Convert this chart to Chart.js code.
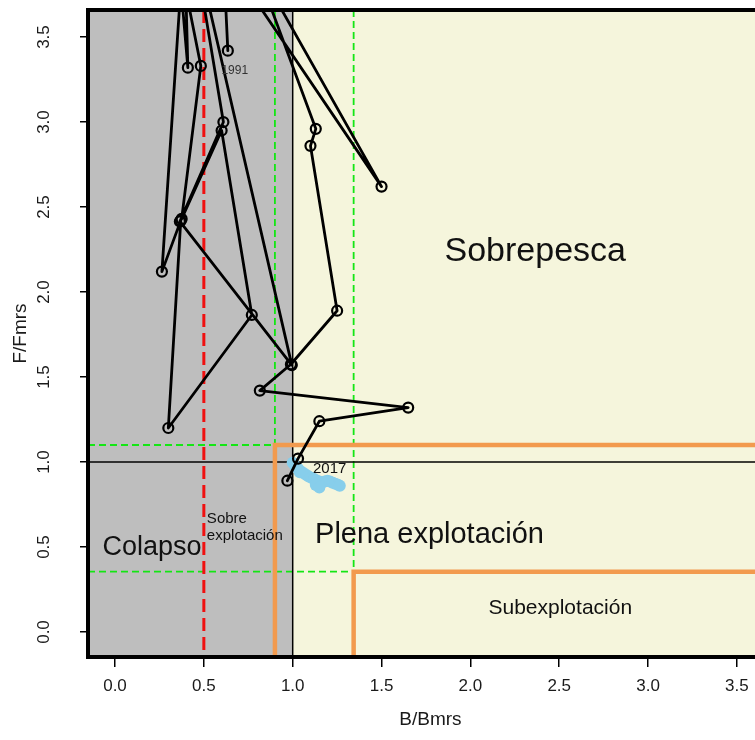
<!DOCTYPE html>
<html>
<head>
<meta charset="utf-8">
<script src="https://cdn.jsdelivr.net/npm/chart.js"></script>
<style>
  html, body { margin: 0; padding: 0; background: #fff; overflow: hidden; width: 755px; height: 740px; }
  canvas { display: block; }
</style>
</head>
<body>
<canvas id="chart" width="780" height="740"></canvas>
<script>
// stock trajectory, B/Bmrs vs F/Fmrs (points above F/Fmrs 3.66 fall outside the frame)
const bRatio = [0.635, 0.595, 0.305, 0.41, 0.39, 0.264, 0.37, 0.30, 0.77, 0.60, 0.375, 0.483, 0.165, 0.324, 0.61,
  0.365, 0.995, 0.383, 1.50, 0.776, 1.13, 1.10, 1.25, 0.99, 0.815, 1.65, 1.15, 1.03, 0.97];
const fRatio = [3.42, 4.30, 4.60, 3.32, 4.10, 2.12, 2.42, 1.20, 1.865, 2.95, 2.43, 3.33, 5.00, 4.80, 3.00,
  2.415, 1.57, 4.345, 2.62, 3.96, 2.96, 2.86, 1.89, 1.575, 1.42, 1.32, 1.24, 1.02, 0.89];

// uncertainty cloud of the last year
const cloudB = [1.00, 1.015, 1.03, 1.045, 1.06, 1.075, 1.09, 1.105, 1.12, 1.135, 1.15, 1.165, 1.18, 1.195, 1.21, 1.225, 1.24, 1.255, 1.265, 1.13, 1.15, 1.04];
const cloudF = [0.995, 0.975, 0.96, 0.945, 0.935, 0.925, 0.915, 0.908, 0.90, 0.892, 0.885, 0.88, 0.885, 0.89, 0.885, 0.878, 0.872, 0.866, 0.86, 0.865, 0.85, 0.94];

const xTicks = [0, 0.5, 1, 1.5, 2, 2.5, 3, 3.5];
const yTicks = [0, 0.5, 1, 1.5, 2, 2.5, 3, 3.5];

// reference points
const bLim = 0.5;       // red dashed
const bRef = 1.0;
const fRef = 1.0;
const bLow = 0.9, bHigh = 1.343;   // green dashed, vertical
const fHigh = 1.1, fLow = 0.355;   // green dashed, horizontal

const FONT = "'Liberation Sans', Arial, sans-serif";
Chart.defaults.font.family = FONT;

const trajectory = bRatio.map((b, i) => ({ x: b, y: fRatio[i] }));
const cloud = cloudB.map((b, i) => ({ x: b, y: cloudF[i] }));

const zoneLabels = [
  { text: 'Sobrepesca', x: 2.365, y: 2.235, size: 34, align: 'center' },
  { text: 'Plena explotación', x: 1.77, y: 0.568, size: 29, align: 'center' },
  { text: 'Subexplotación', x: 2.506, y: 0.141, size: 21, align: 'center' },
  { text: 'Colapso', x: 0.208, y: 0.494, size: 27, align: 'center' },
  { text: 'Sobre', x: 0.517, y: 0.667, size: 15, align: 'left' },
  { text: 'explotación', x: 0.517, y: 0.565, size: 15, align: 'left' },
  { text: '1991', x: 0.674, y: 3.30, size: 12, align: 'center', color: '#333' },
  { text: '2017', x: 1.208, y: 0.959, size: 15, align: 'center' },
];

function seg(ctx, pts, color, width, dash) {
  ctx.beginPath();
  ctx.setLineDash(dash || []);
  ctx.strokeStyle = color;
  ctx.lineWidth = width;
  ctx.lineJoin = 'miter';
  ctx.moveTo(pts[0][0], pts[0][1]);
  for (let i = 1; i < pts.length; i++) ctx.lineTo(pts[i][0], pts[i][1]);
  ctx.stroke();
}

const background = {
  id: 'background',
  beforeDatasetsDraw(chart) {
    const { ctx, chartArea: a, scales: { x, y } } = chart;
    const px = v => x.getPixelForValue(v), py = v => y.getPixelForValue(v);
    ctx.save();
    ctx.beginPath();
    ctx.rect(a.left, a.top, a.right - a.left, a.bottom - a.top);
    ctx.clip();
    ctx.fillStyle = '#BEBEBE';
    ctx.fillRect(a.left, a.top, px(bRef) - a.left, a.bottom - a.top);
    ctx.fillStyle = '#F5F5DC';
    ctx.fillRect(px(bRef), a.top, a.right - px(bRef), a.bottom - a.top);

    const green = '#14E614';
    seg(ctx, [[px(bLow), a.top], [px(bLow), a.bottom]], green, 1.8, [7, 4]);
    seg(ctx, [[px(bHigh), a.top], [px(bHigh), a.bottom]], green, 1.8, [7, 4]);
    seg(ctx, [[a.left, py(fHigh)], [px(bHigh), py(fHigh)]], green, 1.8, [7, 4]);
    seg(ctx, [[a.left, py(fLow)], [px(bHigh), py(fLow)]], green, 1.8, [7, 4]);

    seg(ctx, [[px(bRef), a.top], [px(bRef), a.bottom]], '#000', 1.5);
    seg(ctx, [[a.left, py(fRef)], [a.right, py(fRef)]], '#000', 1.5);
    seg(ctx, [[px(bLim), a.top], [px(bLim), a.bottom]], '#F01010', 3, [13, 6]);

    const orange = '#F29A4E';
    seg(ctx, [[px(bLow), a.bottom + 2], [px(bLow), py(fHigh)], [a.right, py(fHigh)]], orange, 4.5);
    seg(ctx, [[px(bHigh), a.bottom + 2], [px(bHigh), py(fLow)], [a.right, py(fLow)]], orange, 4.5);
    ctx.restore();
  },
  afterDatasetsDraw(chart) {
    const { ctx, chartArea: a, scales: { x, y } } = chart;
    ctx.save();
    ctx.textBaseline = 'middle';
    zoneLabels.forEach(l => {
      ctx.font = l.size + 'px ' + FONT;
      ctx.fillStyle = l.color || '#111';
      ctx.textAlign = l.align;
      ctx.fillText(l.text, x.getPixelForValue(l.x), y.getPixelForValue(l.y));
    });
    ctx.setLineDash([]);
    ctx.strokeStyle = '#000';
    ctx.lineWidth = 4;
    ctx.strokeRect(a.left, a.top, a.right - a.left, a.bottom - a.top);

    // y tick labels, rotated like the original
    ctx.font = '17px ' + FONT;
    ctx.fillStyle = '#1a1a1a';
    ctx.textAlign = 'center';
    yTicks.forEach(v => {
      ctx.save();
      ctx.translate(44, y.getPixelForValue(v));
      ctx.rotate(-Math.PI / 2);
      ctx.fillText(v.toFixed(1), 0, 0);
      ctx.restore();
    });
    ctx.restore();
  }
};

new Chart(document.getElementById('chart'), {
  type: 'scatter',
  data: {
    datasets: [
      {
        data: trajectory,
        showLine: true,
        tension: 0,
        borderColor: '#000',
        borderWidth: 2.8,
        borderJoinStyle: 'round',
        borderCapStyle: 'round',
        pointRadius: 5,
        pointBorderWidth: 2.2,
        pointBorderColor: '#000',
        pointBackgroundColor: 'rgba(0,0,0,0)',
        order: 0
      },
      {
        data: cloud,
        pointRadius: 6,
        pointBorderWidth: 0,
        pointBackgroundColor: '#87CEEB',
        order: 1
      }
    ]
  },
  options: {
    responsive: false,
    animation: false,
    devicePixelRatio: 1,
    events: [],
    layout: { padding: { top: 10, right: 6, left: 0, bottom: 0 } },
    plugins: { legend: { display: false }, tooltip: { enabled: false } },
    scales: {
      x: {
        type: 'linear',
        min: -0.152,
        max: 3.702,
        afterFit: s => { s.height = 83; },
        afterBuildTicks: s => { s.ticks = xTicks.map(v => ({ value: v })); },
        ticks: { callback: v => v.toFixed(1), font: { size: 17 }, color: '#1a1a1a', padding: 9, autoSkip: false, maxRotation: 0 },
        grid: { drawOnChartArea: false, drawTicks: true, tickLength: 10, color: '#000', lineWidth: 1.5 },
        border: { display: false },
        title: { display: true, text: 'B/Bmrs', font: { size: 19 }, color: '#1a1a1a', padding: { top: 0, bottom: 9 } }
      },
      y: {
        type: 'linear',
        min: -0.147,
        max: 3.659,
        afterFit: s => { s.width = 88; },
        afterBuildTicks: s => { s.ticks = yTicks.map(v => ({ value: v })); },
        ticks: { display: false },
        grid: { drawOnChartArea: false, drawTicks: true, tickLength: 8, color: '#000', lineWidth: 1.5 },
        border: { display: false },
        title: { display: true, text: 'F/Fmrs', font: { size: 19 }, color: '#1a1a1a', padding: { top: 9, bottom: 0 } }
      }
    }
  },
  plugins: [background]
});
</script>
</body>
</html>
